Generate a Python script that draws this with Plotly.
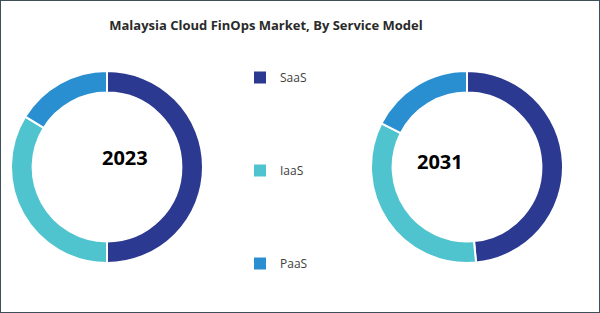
import plotly.graph_objects as go

categories = ["SaaS", "IaaS", "PaaS"]
values_2023 = [50.0, 33.8, 16.2]
values_2031 = [48.5, 34.0, 17.5]
years = ["2023", "2031"]
colors = ["#2B3990", "#4FC4CF", "#2A8FD0"]

W, H = 600, 313

def dom_x(cx, r):
    return [(cx - r) / W, (cx + r) / W]

def dom_y(cy, r):
    return [(H - cy - r) / H, (H - cy + r) / H]

fig = go.Figure()
for vals, cx in [(values_2023, 107), (values_2031, 467)]:
    fig.add_trace(go.Pie(
        labels=categories, values=vals, hole=0.775, sort=False,
        direction="clockwise", rotation=0,
        marker=dict(colors=colors, line=dict(color="white", width=2)),
        textinfo="none", hoverinfo="label+value", showlegend=False,
        domain=dict(x=dom_x(cx, 96), y=dom_y(167, 96)),
    ))

# legend entries
for i, (cat, col) in enumerate(zip(categories, colors)):
    fig.add_trace(go.Scatter(
        x=[None], y=[None], mode="markers", name=cat,
        marker=dict(symbol="square", size=6, color=col),
        legendgroup=cat, showlegend=True,
    ))

fig.add_annotation(x=100 / W, y=1 - 157 / H, xref="paper", yref="paper",
                   text="<b>" + years[0] + "</b>", showarrow=False,
                   font=dict(family="Open Sans", size=20, color="#000000"))
fig.add_annotation(x=465 / W, y=1 - 162 / H, xref="paper", yref="paper",
                   text="<b>" + years[1] + "</b>", showarrow=False,
                   font=dict(family="Open Sans", size=20, color="#000000"))

fig.add_shape(type="rect", xref="paper", yref="paper", x0=0, y0=0, x1=1, y1=1,
              line=dict(color="#3E4F57", width=2), fillcolor="rgba(0,0,0,0)")

fig.update_layout(
    width=W, height=H,
    margin=dict(l=0, r=0, t=0, b=0),
    paper_bgcolor="white", plot_bgcolor="white",
    title=dict(text="Malaysia Cloud FinOps Market, By Service Model",
               x=266 / W, xanchor="center", y=1 - 25 / H, yanchor="middle",
               font=dict(family="Open Sans", size=13, color="#2A2A2A", weight=700)),
    xaxis=dict(visible=False), yaxis=dict(visible=False),
    legend=dict(x=240 / W, y=1 - 63 / H, xanchor="left", yanchor="top",
                tracegroupgap=74, itemsizing="constant",
                font=dict(family="Open Sans", size=12, color="#404040"),
                bgcolor="rgba(0,0,0,0)"),
)

fig.write_html("out.html")
